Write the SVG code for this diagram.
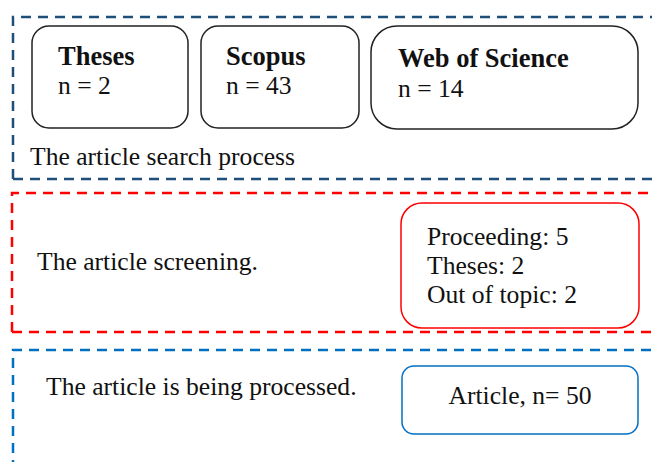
<svg xmlns="http://www.w3.org/2000/svg" width="652" height="462" viewBox="0 0 652 462">
<style>
text{font-family:"Liberation Serif","Times New Roman",serif;fill:#111}
.lbl{font-size:25.6px}
.b{font-weight:bold;font-size:26.5px}
.dash{fill:none;stroke-width:2.5;stroke-dasharray:10 7}
.node{fill:#fff;stroke-width:1.5}
</style>
<rect width="652" height="462" fill="#fff"/>
<g id="search-stage">
<path class="dash" stroke="#1F4E79" d="M13,179 V17 H660 M13,179 H660"/>
<text class="lbl" x="30" y="165">The article search process</text>
</g>
<g id="theses">
<rect class="node" stroke="#222" x="32" y="26" width="156" height="102" rx="17"/>
<text class="b" x="58" y="65">Theses</text>
<text class="lbl" x="58" y="94">n = 2</text>
</g>
<g id="scopus">
<rect class="node" stroke="#222" x="201" y="26" width="158" height="102" rx="17"/>
<text class="b" x="226" y="65">Scopus</text>
<text class="lbl" x="226" y="94">n = 43</text>
</g>
<g id="wos">
<rect class="node" stroke="#222" x="371" y="26" width="267" height="103" rx="26"/>
<text class="b" x="398" y="67">Web of Science</text>
<text class="lbl" x="398" y="97">n = 14</text>
</g>
<g id="screening-stage">
<path class="dash" stroke="#FF0000" d="M12,332 V193 H660 M12,332 H660"/>
<text class="lbl" x="37" y="270">The article screening.</text>
</g>
<g id="exclusions">
<rect class="node" stroke="#FF0000" x="401" y="203" width="238" height="125" rx="21"/>
<text class="lbl" x="427" y="245">Proceeding: 5</text>
<text class="lbl" x="427" y="274">Theses: 2</text>
<text class="lbl" x="427" y="303">Out of topic: 2</text>
</g>
<g id="processing-stage">
<path class="dash" stroke="#0070C0" d="M13,470 V350 H660"/>
<text class="lbl" x="46" y="395">The article is being processed.</text>
</g>
<g id="article">
<rect class="node" stroke="#0070C0" x="402" y="366" width="236" height="68" rx="12"/>
<text class="lbl" x="520" y="404" text-anchor="middle">Article, n= 50</text>
</g>
<g id="connectors"></g>
</svg>
